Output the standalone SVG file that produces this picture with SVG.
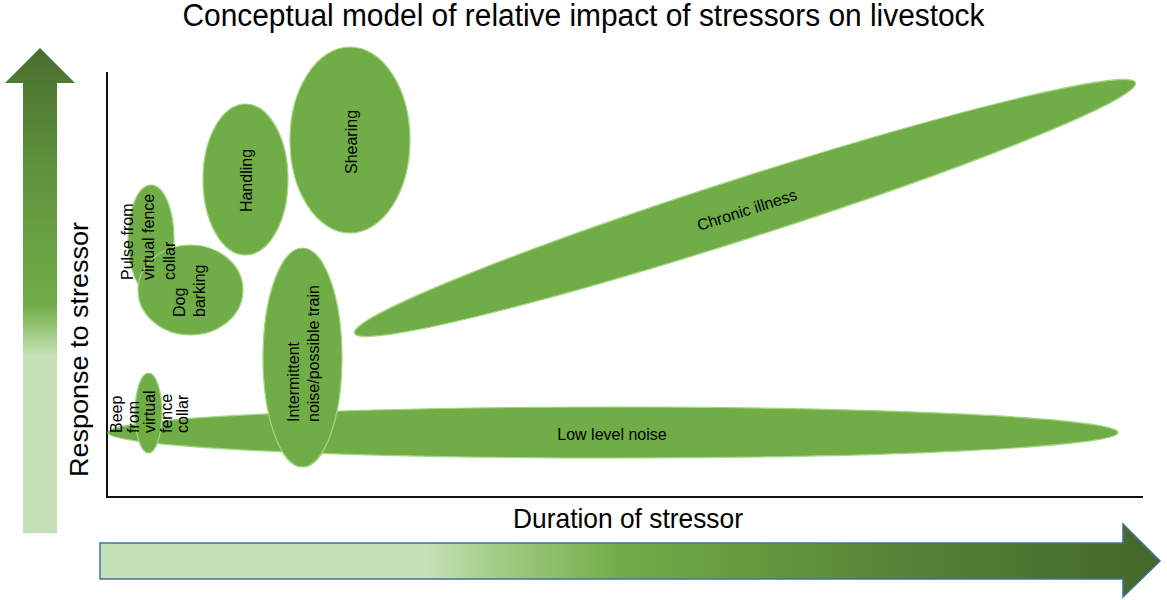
<svg xmlns="http://www.w3.org/2000/svg" width="1167" height="600" viewBox="0 0 1167 600">
  <style>
    .lbl { font-family: "Liberation Sans", Arial, sans-serif; font-size: 16px; fill: #000; }
    .big { font-family: "Liberation Sans", Arial, sans-serif; fill: #000; }
    .blob { fill: #70ad47; stroke: #a3d682; stroke-width: 1.2; }
    .axis { stroke: #111; stroke-width: 2; fill: none; }
  </style>
  <defs>
    <linearGradient id="vgrad" x1="0" y1="535" x2="0" y2="47" gradientUnits="userSpaceOnUse">
      <stop offset="0" stop-color="#c5e0b4"/>
      <stop offset="0.37" stop-color="#c5e0b4"/>
      <stop offset="0.47" stop-color="#70ad47"/>
      <stop offset="0.75" stop-color="#5e923d"/>
      <stop offset="1" stop-color="#4a6e2e"/>
    </linearGradient>
    <linearGradient id="hgrad" x1="100" y1="0" x2="1160" y2="0" gradientUnits="userSpaceOnUse">
      <stop offset="0" stop-color="#c5e0b4"/>
      <stop offset="0.31" stop-color="#c5e0b4"/>
      <stop offset="0.36" stop-color="#a9d18e"/>
      <stop offset="0.49" stop-color="#70ad47"/>
      <stop offset="0.75" stop-color="#578437"/>
      <stop offset="1" stop-color="#43672b"/>
    </linearGradient>
  </defs>

  <rect width="1167" height="600" fill="#ffffff"/>

  <g id="title">
    <text class="big" x="583.5" y="26" font-size="31" text-anchor="middle" textLength="802" lengthAdjust="spacingAndGlyphs">Conceptual model of relative impact of stressors on livestock</text>
  </g>

  <g id="y-arrow">
    <path d="M23,533 L23,83 L5,83 L40,48 L75,83 L57,83 L57,533 Z" fill="url(#vgrad)"/>
    <text class="big" transform="translate(88,349.5) rotate(-90)" font-size="26" text-anchor="middle" textLength="255" lengthAdjust="spacingAndGlyphs">Response to stressor</text>
  </g>

  <g id="x-arrow">
    <path d="M100,543 L1123,543 L1123,524 L1160,561 L1123,597 L1123,579 L100,579 Z" fill="url(#hgrad)" stroke="#41719c" stroke-width="1.5" stroke-linejoin="miter"/>
    <text class="big" x="628" y="528" font-size="28" text-anchor="middle" textLength="230" lengthAdjust="spacingAndGlyphs">Duration of stressor</text>
  </g>

  <g id="axes">
    <path class="axis" d="M107,72 L107,497 L1143,497"/>
  </g>

  <g id="chronic-illness">
    <ellipse class="blob" cx="745" cy="208" rx="410" ry="30" transform="rotate(-17.78 745 208)"/>
    <text class="lbl" transform="translate(747,210) rotate(-17.78)" y="5.5" text-anchor="middle" font-size="16.5">Chronic illness</text>
  </g>

  <g id="low-level-noise">
    <ellipse class="blob" cx="613" cy="432.5" rx="505" ry="25.5"/>
    <text class="lbl" x="612" y="439.5" text-anchor="middle" font-size="16.5">Low level noise</text>
  </g>

  <g id="beep">
    <ellipse class="blob" cx="148.5" cy="413" rx="13.5" ry="40"/>
    <text class="lbl" transform="translate(122,433) rotate(-90)">
      <tspan x="0" y="0">Beep</tspan>
      <tspan x="0" y="16.5">from</tspan>
      <tspan x="0" y="33">virtual</tspan>
      <tspan x="0" y="49.5">fence</tspan>
      <tspan x="0" y="66">collar</tspan>
    </text>
  </g>

  <g id="intermittent-noise">
    <ellipse class="blob" cx="302.5" cy="357.5" rx="39.5" ry="109.5"/>
    <text class="lbl" transform="translate(299,422) rotate(-90)">
      <tspan x="0" y="0">Intermittent</tspan>
      <tspan x="0" y="20">noise/possible train</tspan>
    </text>
  </g>

  <g id="pulse">
    <ellipse class="blob" cx="151" cy="239" rx="23" ry="54"/>
  </g>

  <g id="dog-barking">
    <ellipse class="blob" cx="190.5" cy="290" rx="52.5" ry="45"/>
    <text class="lbl" transform="translate(185,317) rotate(-90)">
      <tspan x="0" y="0">Dog</tspan>
      <tspan x="0" y="20">barking</tspan>
    </text>
  </g>

  <g id="pulse-label">
    <text class="lbl" transform="translate(133,280) rotate(-90)">
      <tspan x="0" y="0">Pulse from</tspan>
      <tspan x="0" y="21">virtual fence</tspan>
      <tspan x="0" y="42">collar</tspan>
    </text>
  </g>

  <g id="handling">
    <ellipse class="blob" cx="245.5" cy="179.5" rx="42.5" ry="75.5"/>
    <text class="lbl" transform="translate(252,180.5) rotate(-90)" text-anchor="middle">Handling</text>
  </g>

  <g id="shearing">
    <ellipse class="blob" cx="350" cy="140" rx="60" ry="93"/>
    <text class="lbl" transform="translate(357,142) rotate(-90)" text-anchor="middle">Shearing</text>
  </g>
</svg>
